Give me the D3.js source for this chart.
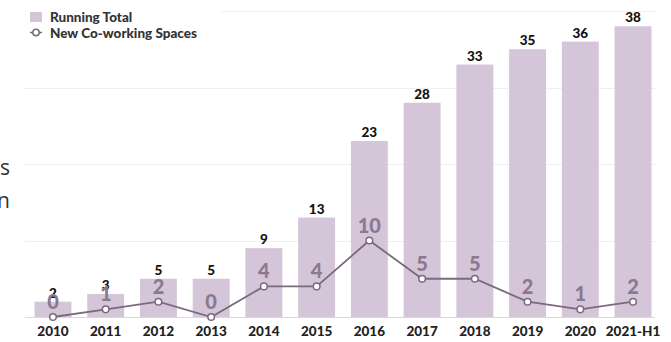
<!DOCTYPE html>
<html>
<head>
<meta charset="utf-8">
<script src="https://cdn.jsdelivr.net/npm/d3@7/dist/d3.min.js"></script>
<style>
  html, body { margin: 0; padding: 0; background: #fff; }
  svg { display: block; }
</style>
</head>
<body>
<div id="chart"></div>
<script>
// Co-working spaces: running total (bars) and new openings per year (line)
const categories = ["2010", "2011", "2012", "2013", "2014", "2015", "2016", "2017", "2018", "2019", "2020", "2021-H1"];
const runningTotal = [2, 3, 5, 5, 9, 13, 23, 28, 33, 35, 36, 38];
const newSpaces = [0, 1, 2, 0, 4, 4, 10, 5, 5, 2, 1, 2];
const gridTicks = [0, 10, 20, 30, 40];

const W = 671, H = 342;
const svg = d3.select("#chart").append("svg").attr("width", W).attr("height", H);

const x = d3.scaleBand().domain(categories).range([26.6, 659.4]).paddingInner(0.3).paddingOuter(0.15);
const y = d3.scaleLinear().domain([0, 40]).range([317, 11]);

const barColor = "#d5c5d8";
const lineColor = "#7b6a7e";
const lineLabelColor = "#8b798f";

// fragments of adjacent page text at the left edge
svg.append("text").attr("x", 10).attr("y", 175).attr("text-anchor", "end")
  .attr("font-family", "Open Sans").attr("font-size", 21).attr("fill", "#333").text("s");
svg.append("text").attr("x", 10).attr("y", 208).attr("text-anchor", "end")
  .attr("font-family", "Open Sans").attr("font-size", 21).attr("fill", "#333").text("n");

// horizontal gridlines
svg.append("g").selectAll("line").data(gridTicks).join("line")
  .attr("x1", 25).attr("x2", 655)
  .attr("y1", d => Math.round(y(d)) + 0.5).attr("y2", d => Math.round(y(d)) + 0.5)
  .attr("stroke", d => d === 0 ? "#d8d8d8" : "#efefef").attr("stroke-width", 1);

// bars
svg.append("g").selectAll("rect").data(categories).join("rect")
  .attr("x", d => x(d))
  .attr("width", x.bandwidth())
  .attr("y", (d, i) => y(runningTotal[i]))
  .attr("height", (d, i) => y(0) - y(runningTotal[i]))
  .attr("fill", barColor);

// bar value labels
svg.append("g").selectAll("text").data(categories).join("text")
  .attr("x", d => x(d) + x.bandwidth() / 2)
  .attr("y", (d, i) => y(runningTotal[i]) - 4)
  .attr("text-anchor", "middle")
  .attr("font-family", "Lato").attr("font-weight", 900).attr("font-size", 13.5)
  .attr("fill", "#111")
  .text((d, i) => runningTotal[i]);

// new spaces line
const cx = d => x(d) + x.bandwidth() / 2;
const line = d3.line().x((d, i) => cx(categories[i])).y(d => y(d));
svg.append("path").datum(newSpaces)
  .attr("d", line).attr("fill", "none")
  .attr("stroke", lineColor).attr("stroke-width", 1.8);

svg.append("g").selectAll("circle").data(newSpaces).join("circle")
  .attr("cx", (d, i) => cx(categories[i]))
  .attr("cy", d => y(d))
  .attr("r", 3.3)
  .attr("fill", "#fff").attr("stroke", lineColor).attr("stroke-width", 1.5);

// line value labels
svg.append("g").selectAll("text").data(newSpaces).join("text")
  .attr("x", (d, i) => cx(categories[i]))
  .attr("y", d => y(d) - 8)
  .attr("text-anchor", "middle")
  .attr("font-family", "Lato").attr("font-weight", 900).attr("font-size", 20)
  .attr("fill", lineLabelColor)
  .text(d => d);

// x axis
const xAxis = svg.append("g").attr("transform", `translate(0,${y(0)})`)
  .call(d3.axisBottom(x).tickSize(0).tickPadding(9));
xAxis.select(".domain").remove();
xAxis.selectAll("text")
  .attr("font-family", "Lato").attr("font-weight", 900).attr("font-size", 13.5)
  .attr("fill", "#222");

// legend
const lg = svg.append("g");
lg.append("rect").attr("x", 26).attr("y", 5).attr("width", 195).attr("height", 36).attr("fill", "#fff");
lg.append("rect").attr("x", 30).attr("y", 12).attr("width", 12).attr("height", 10).attr("fill", barColor);
lg.append("text").attr("x", 50).attr("y", 21.5)
  .attr("font-family", "Lato").attr("font-weight", 900).attr("font-size", 13.5)
  .attr("fill", "#333").text("Running Total");
lg.append("line").attr("x1", 30).attr("x2", 42).attr("y1", 32.5).attr("y2", 32.5)
  .attr("stroke", lineColor).attr("stroke-width", 1.5);
lg.append("circle").attr("cx", 36).attr("cy", 32.5).attr("r", 3.2)
  .attr("fill", "#fff").attr("stroke", lineColor).attr("stroke-width", 1.5);
lg.append("text").attr("x", 50).attr("y", 37.5)
  .attr("font-family", "Lato").attr("font-weight", 900).attr("font-size", 13.5)
  .attr("fill", "#333").text("New Co-working Spaces");
</script>
</body>
</html>
